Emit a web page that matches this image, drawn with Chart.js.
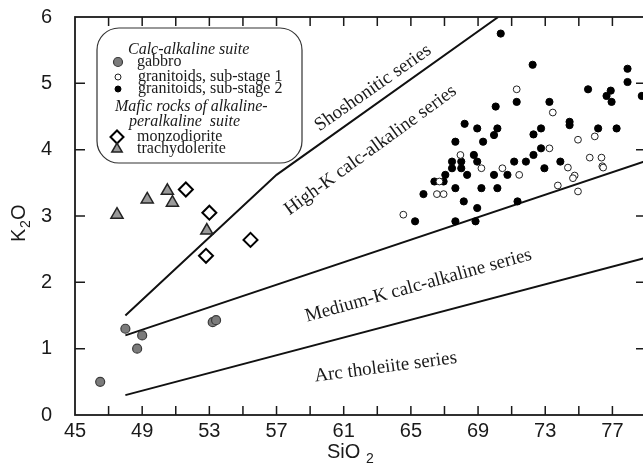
<!DOCTYPE html>
<html>
<head>
<meta charset="utf-8">
<script src="https://cdn.jsdelivr.net/npm/chart.js@4/dist/chart.umd.min.js"></script>
<style>
  html, body { margin: 0; padding: 0; background: #fff; overflow: hidden; }
  #wrap { width: 648px; height: 473px; }
</style>
</head>
<body>
<div id="wrap"><canvas id="chart"></canvas></div>
<script>
// gabbro (calc-alkaline suite)
const gabbroSiO2 = [46.5, 48.0, 49.0, 48.7, 53.2, 53.4];
const gabbroK2O  = [0.50, 1.30, 1.20, 1.00, 1.40, 1.43];

// granitoids, sub-stage 1 (open circles)
const stage1SiO2 = [71.3, 73.45, 74.95, 75.95, 73.25, 75.65, 76.35, 76.4, 76.45, 74.35, 74.75, 74.65,
                    73.75, 74.95, 67.95, 69.2, 70.45, 71.45, 66.55, 66.95, 64.55, 66.7];
const stage1K2O  = [4.91, 4.56, 4.15, 4.20, 4.02, 3.88, 3.88, 3.75, 3.73, 3.73, 3.61, 3.57,
                    3.46, 3.37, 3.92, 3.72, 3.72, 3.62, 3.33, 3.33, 3.02, 3.52];

// granitoids, sub-stage 2 (filled circles)
const stage2SiO2 = [70.35, 72.25, 77.9, 77.9, 78.75, 75.55, 76.9, 76.65, 76.95, 71.3, 73.25, 70.05,
                    68.2, 68.95, 70.15, 69.95, 69.3, 67.65, 72.3, 72.75, 74.45, 74.45, 76.15, 77.25,
                    72.75, 72.3, 73.9, 72.95, 71.85, 71.15, 68.75, 68.95, 67.45, 68.0, 67.45, 68.0,
                    68.35, 67.05, 69.95, 70.75, 66.4, 66.95, 65.75, 67.65, 69.2, 70.15, 68.15, 68.95,
                    71.35, 65.25, 67.65, 68.85];
const stage2K2O  = [5.75, 5.28, 5.22, 5.02, 4.81, 4.91, 4.89, 4.81, 4.72, 4.72, 4.72, 4.65,
                    4.39, 4.32, 4.32, 4.22, 4.12, 4.12, 4.23, 4.32, 4.42, 4.37, 4.32, 4.32,
                    4.02, 3.92, 3.82, 3.72, 3.82, 3.82, 3.92, 3.82, 3.82, 3.82, 3.72, 3.72,
                    3.62, 3.62, 3.62, 3.62, 3.52, 3.52, 3.33, 3.42, 3.42, 3.42, 3.22, 3.12,
                    3.22, 2.92, 2.92, 2.92];

// mafic rocks of alkaline-peralkaline suite
const monzoSiO2  = [51.6, 53.0, 52.8, 55.45];
const monzoK2O   = [3.40, 3.05, 2.40, 2.64];
const trachySiO2 = [47.5, 49.3, 50.5, 50.8, 52.85];
const trachyK2O  = [3.02, 3.25, 3.38, 3.20, 2.78];

// series boundaries
const shoSiO2 = [48, 57, 70.2];
const shoK2O  = [1.5, 3.62, 6.0];
const medSiO2 = [48, 79];
const medK2O  = [1.2, 3.83];
const arcSiO2 = [48, 79];
const arcK2O  = [0.3, 2.37];

// tick labels
const xTickLabels = [45, 49, 53, 57, 61, 65, 69, 73, 77];
const yTickLabels = [0, 1, 2, 3, 4, 5, 6];

// field names drawn inside the diagram
const fieldNames = ["Shoshonitic series", "High-K calc-alkaline series",
                    "Medium-K calc-alkaline series", "Arc tholeiite series"];
const fieldSiO2  = [62.75, 62.6, 65.45, 63.5];
const fieldK2O   = [4.93, 3.99, 1.95, 0.72];
const fieldAngle = [35, 36, 15.5, 7.5];

const toPoints = (xs, ys) => xs.map((x, i) => ({ x: x, y: ys[i] }));

const SANS = "'Liberation Sans', Arial, sans-serif";
const SERIF = "'Liberation Serif', 'Times New Roman', serif";

const diagramPlugin = {
    id: "diagram",
    afterDatasetsDraw(chart) {
        const ctx = chart.ctx;
        const area = chart.chartArea;
        const xs = chart.scales.x, ys = chart.scales.y;
        ctx.save();

        // frame
        ctx.strokeStyle = "#1a1a1a";
        ctx.lineWidth = 1.8;
        ctx.strokeRect(area.left, area.top, area.right - area.left, area.bottom - area.top);

        // inward tick marks
        ctx.lineWidth = 1.5;
        ctx.beginPath();
        for (let v = 47; v < 79; v += 2) {
            const px = xs.getPixelForValue(v);
            ctx.moveTo(px, area.bottom); ctx.lineTo(px, area.bottom - 9);
            ctx.moveTo(px, area.top); ctx.lineTo(px, area.top + 9);
        }
        for (let v = 1; v < 6; v++) {
            const py = ys.getPixelForValue(v);
            ctx.moveTo(area.left, py); ctx.lineTo(area.left + 10, py);
            ctx.moveTo(area.right, py); ctx.lineTo(area.right - 10, py);
        }
        ctx.stroke();

        // field names
        ctx.fillStyle = "#1a1a1a";
        ctx.font = "19px " + SERIF;
        ctx.textAlign = "center";
        ctx.textBaseline = "middle";
        fieldNames.forEach((t, i) => {
            ctx.save();
            ctx.translate(xs.getPixelForValue(fieldSiO2[i]), ys.getPixelForValue(fieldK2O[i]));
            ctx.rotate(-fieldAngle[i] * Math.PI / 180);
            ctx.fillText(t, 0, 0);
            ctx.restore();
        });

        // axis titles with subscripts
        ctx.textAlign = "left";
        ctx.font = "20px " + SANS;
        ctx.fillText("SiO", 327, 452);
        ctx.font = "14px " + SANS;
        ctx.fillText("2", 366, 459);

        ctx.save();
        ctx.translate(19, 220);
        ctx.rotate(-Math.PI / 2);
        ctx.font = "20px " + SANS;
        ctx.fillText("K", -22, 0);
        ctx.font = "14px " + SANS;
        ctx.fillText("2", -8, 7);
        ctx.font = "20px " + SANS;
        ctx.fillText("O", 0, 0);
        ctx.restore();

        // legend box
        const bx = 97, by = 28, bw = 205, bh = 135, r = 22;
        ctx.beginPath();
        ctx.roundRect(bx, by, bw, bh, r);
        ctx.fillStyle = "#fff";
        ctx.fill();
        ctx.strokeStyle = "#333";
        ctx.lineWidth = 1.2;
        ctx.stroke();

        const items = [
            { text: "Calc-alkaline suite", x: 128, y: 50, italic: true },
            { text: "gabbro", x: 137, y: 62, ds: 0, mx: 118, radius: 4.5 },
            { text: "granitoids, sub-stage 1", x: 138, y: 77, ds: 1, mx: 118, radius: 3 },
            { text: "granitoids, sub-stage 2", x: 138, y: 89, ds: 2, mx: 118, radius: 3 },
            { text: "Mafic rocks of alkaline-", x: 115, y: 107, italic: true },
            { text: "peralkaline  suite", x: 129, y: 122, italic: true },
            { text: "monzodiorite", x: 137, y: 137, ds: 3, mx: 117, radius: 6.5 },
            { text: "trachydolerite", x: 137, y: 149, ds: 4, mx: 117, radius: 6 }
        ];
        ctx.textBaseline = "middle";
        items.forEach(it => {
            ctx.fillStyle = "#1a1a1a";
            ctx.font = (it.italic ? "italic " : "") + "16px " + SERIF;
            ctx.fillText(it.text, it.x, it.y);
            if (it.ds !== undefined) {
                const d = chart.data.datasets[it.ds];
                ctx.fillStyle = d.backgroundColor;
                ctx.strokeStyle = d.borderColor;
                ctx.lineWidth = d.borderWidth;
                Chart.helpers.drawPoint(ctx, { pointStyle: d.pointStyle, radius: it.radius, rotation: 0, borderWidth: d.borderWidth }, it.mx, it.y);
            }
        });

        ctx.restore();
    }
};

const boundary = (xs, ys) => ({
    data: toPoints(xs, ys),
    showLine: true,
    pointRadius: 0,
    borderColor: "#111",
    borderWidth: 2,
    fill: false
});

// invisible library tick marks, used only to push the labels away from the axis
const hiddenTicks = len => ({ display: true, drawOnChartArea: false, drawTicks: true,
                              tickLength: len, tickColor: "rgba(0,0,0,0)" });

new Chart(document.getElementById("chart"), {
    type: "scatter",
    data: {
        datasets: [
            { label: "gabbro", data: toPoints(gabbroSiO2, gabbroK2O), pointStyle: "circle",
              pointRadius: 4.5, backgroundColor: "#7b7b7b", borderColor: "#3a3a3a", borderWidth: 1.2 },
            { label: "granitoids, sub-stage 1", data: toPoints(stage1SiO2, stage1K2O), pointStyle: "circle",
              pointRadius: 3.4, backgroundColor: "#fff", borderColor: "#222", borderWidth: 1 },
            { label: "granitoids, sub-stage 2", data: toPoints(stage2SiO2, stage2K2O), pointStyle: "circle",
              pointRadius: 3.6, backgroundColor: "#000", borderColor: "#000", borderWidth: 1 },
            { label: "monzodiorite", data: toPoints(monzoSiO2, monzoK2O), pointStyle: "rectRot",
              pointRadius: 7, backgroundColor: "#fff", borderColor: "#000", borderWidth: 2 },
            { label: "trachydolerite", data: toPoints(trachySiO2, trachyK2O), pointStyle: "triangle",
              pointRadius: 7, backgroundColor: "#9a9a9a", borderColor: "#222", borderWidth: 1.5 },
            boundary(shoSiO2, shoK2O),
            boundary(medSiO2, medK2O),
            boundary(arcSiO2, arcK2O)
        ]
    },
    options: {
        responsive: true,
        maintainAspectRatio: false,
        animation: false,
        devicePixelRatio: 1,
        layout: { autoPadding: false, padding: { top: 17, right: 2, left: 0, bottom: 0 } },
        plugins: { legend: { display: false }, tooltip: { enabled: false } },
        scales: {
            x: {
                type: "linear", min: 45, max: 79,
                grid: hiddenTicks(4), border: { display: false },
                ticks: { autoSkip: false, maxRotation: 0,
                         padding: 0, color: "#1a1a1a", font: { family: SANS, size: 20 } },
                afterBuildTicks: s => { s.ticks = xTickLabels.map(v => ({ value: v })); },
                afterFit: s => { s.height = 58; }
            },
            y: {
                type: "linear", min: 0, max: 6,
                grid: hiddenTicks(23), border: { display: false },
                ticks: { padding: 0, color: "#1a1a1a", font: { family: SANS, size: 20 } },
                afterBuildTicks: s => { s.ticks = yTickLabels.map(v => ({ value: v })); },
                afterFit: s => { s.width = 75; }
            }
        }
    },
    plugins: [diagramPlugin]
});
</script>
</body>
</html>
